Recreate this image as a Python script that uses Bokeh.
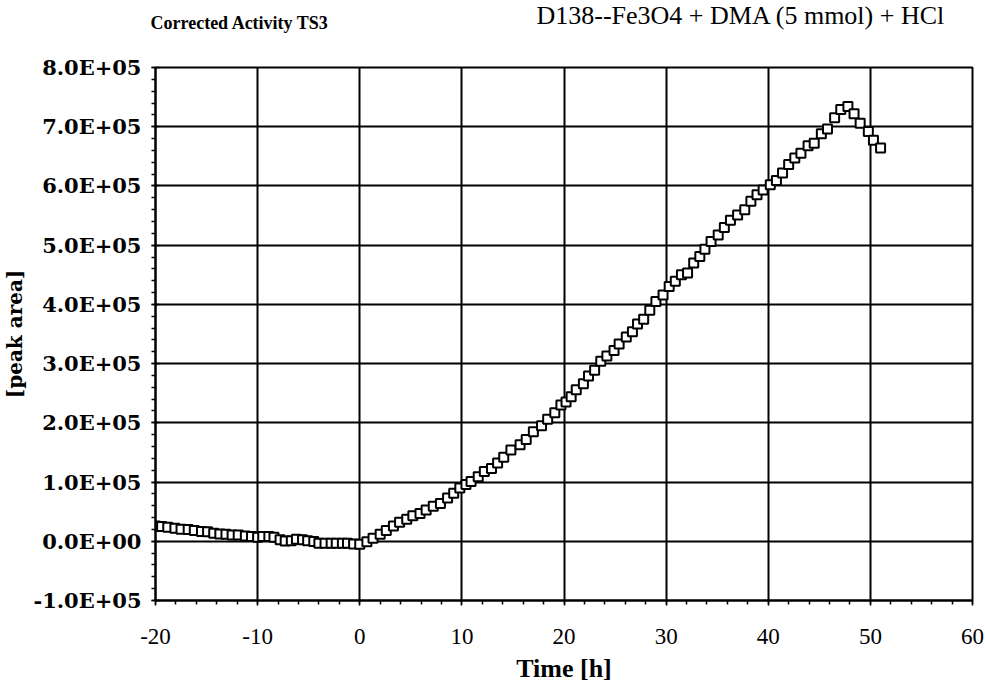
from bokeh.plotting import figure
from bokeh.models import Range1d, FixedTicker, Label, ColumnDataSource
from bokeh.embed import file_html
from bokeh.resources import INLINE

# ---- data ----
time_h = [-20.0, -19.4, -18.8, -18.1, -17.5, -16.8, -16.2, -15.5, -14.9, -14.3,
          -13.7, -13.1, -12.5, -11.9, -11.2, -10.6, -10.0, -9.5, -8.9, -8.4,
          -7.8, -7.3, -6.7, -6.2, -5.6, -5.1, -4.5, -4.0, -3.4, -2.8,
          -2.3, -1.7, -1.2, -0.6, 0.0, 0.7, 1.3, 2.0, 2.6, 3.3,
          3.9, 4.6, 5.2, 5.9, 6.5, 7.2, 7.9, 8.6, 9.2, 9.8,
          10.4, 10.9, 11.6, 12.2, 12.9, 13.5, 14.1, 14.8, 15.7, 16.3,
          17.0, 17.8, 18.4, 19.1, 19.7, 20.2, 20.7, 21.2, 21.9, 22.4,
          23.0, 23.6, 24.2, 24.9, 25.4, 26.1, 26.7, 27.2, 27.8, 28.4,
          29.0, 29.7, 30.3, 30.9, 31.5, 32.1, 32.7, 33.3, 33.8, 34.4,
          35.1, 35.7, 36.3, 37.0, 37.7, 38.3, 38.9, 39.5, 40.2, 40.8,
          41.4, 42.0, 42.6, 43.2, 43.9, 44.5, 45.2, 45.8, 46.5, 47.1,
          47.8, 48.4, 49.0, 49.8, 50.3, 51.0]
peak_area = [26000, 25000, 23500, 22000, 20500, 20000, 18000, 16500, 16000, 13500,
             12500, 12000, 10500, 10500, 9000, 8000, 7000, 8000, 8000, 7000,
             2500, 500, 1000, 3500, 2500, 1000, -500, -3500, -3500, -3500,
             -3500, -3500, -3500, -4500, -5000, -1000, 5000, 12000, 18000, 26000,
             32000, 37000, 43000, 47000, 53000, 59000, 64000, 73000, 81000, 90000,
             96000, 101000, 109000, 118000, 123000, 132000, 142000, 154000, 163000, 172000,
             185000, 195000, 206000, 217000, 230000, 235000, 244000, 256000, 266000, 279000,
             289000, 304000, 313000, 322000, 333000, 345000, 354000, 367000, 375000, 390000,
             405000, 416000, 430000, 439000, 450000, 453000, 470000, 481000, 493000, 506000,
             517000, 530000, 542000, 551000, 560000, 574000, 585000, 593000, 602000, 609000,
             622000, 636000, 647000, 655000, 668000, 672000, 688000, 696000, 715000, 729000,
             734000, 722000, 706000, 692000, 677000, 664000]

x_ticks = [-20, -10, 0, 10, 20, 30, 40, 50, 60]
x_tick_labels = ["-20", "-10", "0", "10", "20", "30", "40", "50", "60"]
y_ticks = [-100000, 0, 100000, 200000, 300000, 400000, 500000, 600000, 700000, 800000]
y_tick_labels = ["-1.0E+05", "0.0E+00", "1.0E+05", "2.0E+05", "3.0E+05",
                 "4.0E+05", "5.0E+05", "6.0E+05", "7.0E+05", "8.0E+05"]
x_minor = [-20 + 2 * i for i in range(41)]
y_minor = [-100000 + 20000 * i for i in range(46)]

title_left = "Corrected Activity TS3"
title_right = "D138--Fe3O4 + DMA (5 mmol) + HCl"

SERIF = "Liberation Serif"
WIDE = "DejaVu Serif"

p = figure(width=985, height=686, output_backend="svg", toolbar_location=None,
           x_range=Range1d(-20, 60), y_range=Range1d(-100000, 800000),
           min_border_left=155, min_border_right=13, min_border_top=67, min_border_bottom=86)
p.background_fill_color = "white"
p.border_fill_color = "white"
p.outline_line_color = "black"
p.outline_line_width = 2

p.xaxis.ticker = FixedTicker(ticks=x_ticks, minor_ticks=x_minor)
p.yaxis.ticker = FixedTicker(ticks=y_ticks, minor_ticks=y_minor)
p.xaxis.major_label_overrides = {t: l for t, l in zip(x_ticks, x_tick_labels)}
p.yaxis.major_label_overrides = {t: l for t, l in zip(y_ticks, y_tick_labels)}

for ax in (p.xaxis, p.yaxis):
    ax.axis_line_color = "black"
    ax.axis_line_width = 2
    ax.major_tick_line_color = "black"
    ax.minor_tick_line_color = "black"
    ax.major_tick_line_width = 1.5
    ax.minor_tick_line_width = 1.5
    ax.major_label_text_color = "black"
    ax.axis_label_text_color = "black"
    ax.axis_label_text_font_style = "bold"

p.xaxis.major_tick_in = 0
p.xaxis.major_tick_out = 5
p.xaxis.minor_tick_in = 0
p.xaxis.minor_tick_out = 4
p.yaxis.major_tick_in = 4
p.yaxis.major_tick_out = 4
p.yaxis.minor_tick_in = 0
p.yaxis.minor_tick_out = 4

p.xaxis.major_label_text_font = SERIF
p.xaxis.major_label_text_font_size = "23px"
p.xaxis.major_label_standoff = 23
p.yaxis.major_label_text_font = WIDE
p.yaxis.major_label_text_font_size = "21px"
p.yaxis.major_label_text_font_style = "bold"
p.yaxis.major_label_standoff = 10

p.xaxis.axis_label = "Time [h]"
p.xaxis.axis_label_text_font = SERIF
p.xaxis.axis_label_text_font_size = "26px"
p.xaxis.axis_label_standoff = 7
p.yaxis.axis_label = "[peak area]"
p.yaxis.axis_label_text_font = WIDE
p.yaxis.axis_label_text_font_size = "20px"
p.yaxis.axis_label_standoff = 3

p.xgrid.grid_line_color = "black"
p.ygrid.grid_line_color = "black"
p.xgrid.grid_line_width = 2
p.ygrid.grid_line_width = 2

src = ColumnDataSource(data=dict(t=time_h, v=peak_area))
p.scatter("t", "v", source=src, marker="square", size=9, line_width=2,
          line_color="black", fill_color="white")

p.add_layout(Label(x=-5, y=45, x_units="screen", y_units="screen", text=title_left,
                   text_font=SERIF, text_font_size="18px", text_font_style="bold",
                   text_baseline="middle", text_align="left", text_color="black"), "above")
p.add_layout(Label(x=381, y=32, x_units="screen", y_units="screen", text=title_right,
                   text_font=SERIF, text_font_size="26px",
                   text_baseline="middle", text_align="left", text_color="black"), "above")

open("out.html", "w").write(file_html(p, INLINE))
